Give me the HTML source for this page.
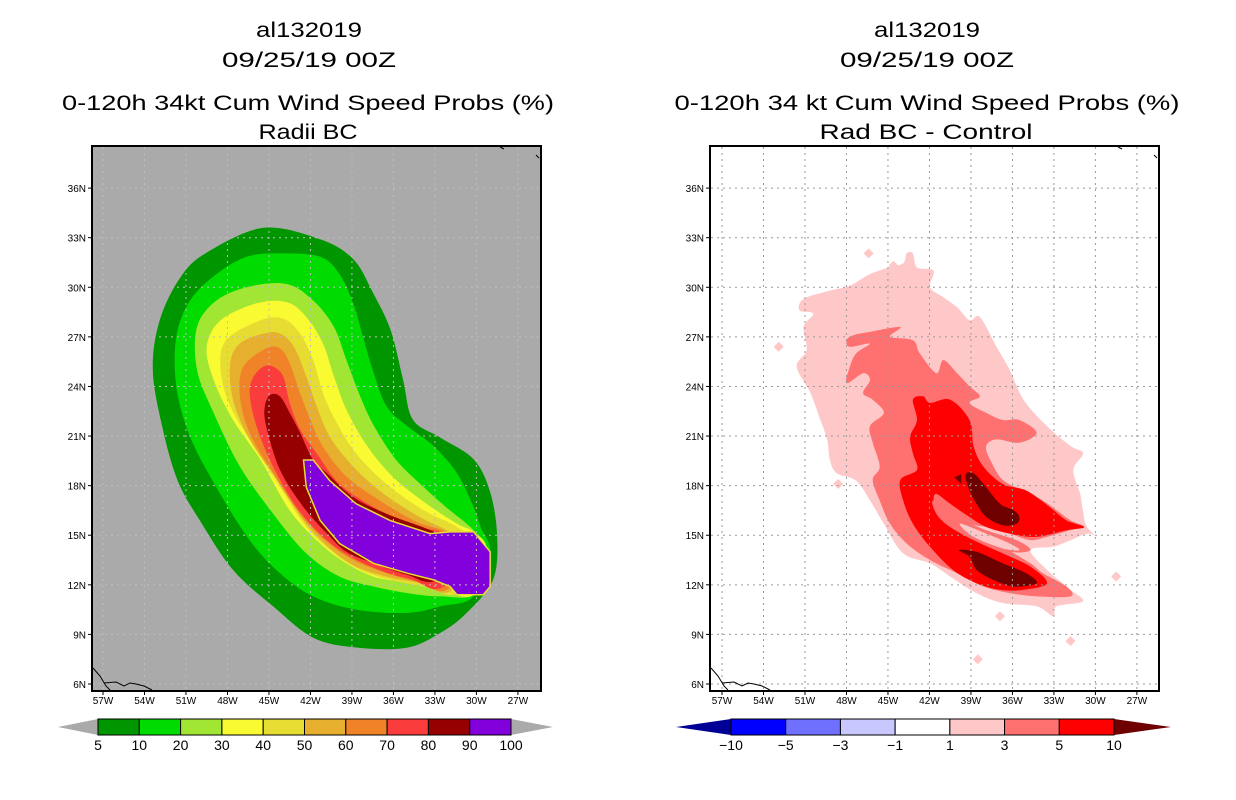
<!DOCTYPE html>
<html><head><meta charset="utf-8"><style>
html,body{margin:0;padding:0;background:#fff;}
svg{display:block;font-family:"Liberation Sans",sans-serif;}
</style></head><body>
<svg id="s" width="1236" height="800" viewBox="0 0 1236 800">
<defs>
<clipPath id="cl"><rect x="92" y="146" width="449" height="545"/></clipPath>
<clipPath id="cr"><rect x="710" y="146" width="448" height="545"/></clipPath>
</defs>
<g font-size="21" text-anchor="middle" fill="#000">
<text x="309" y="37" textLength="106" lengthAdjust="spacingAndGlyphs">al132019</text>
<text x="309" y="67" textLength="174" lengthAdjust="spacingAndGlyphs">09/25/19 00Z</text>
<text x="308" y="110" textLength="492" lengthAdjust="spacingAndGlyphs">0-120h 34kt Cum Wind Speed Probs (%)</text>
<text x="308" y="139" textLength="99" lengthAdjust="spacingAndGlyphs">Radii BC</text>
</g>
<g font-size="21" text-anchor="middle" fill="#000">
<text x="927" y="37" textLength="106" lengthAdjust="spacingAndGlyphs">al132019</text>
<text x="927" y="67" textLength="174" lengthAdjust="spacingAndGlyphs">09/25/19 00Z</text>
<text x="927" y="110" textLength="505" lengthAdjust="spacingAndGlyphs">0-120h 34 kt Cum Wind Speed Probs (%)</text>
<text x="926" y="139" textLength="213" lengthAdjust="spacingAndGlyphs">Rad BC - Control</text>
</g>
<g id="L"></g>
<g id="R"></g>
<g id="CB"></g>
</svg>
<script>
// ---- data ----
var lonTicks=[-57,-54,-51,-48,-45,-42,-39,-36,-33,-30,-27];
var latTicks=[6,9,12,15,18,21,24,27,30,33,36];
var leftLevels=[5,10,20,30,40,50,60,70,80,90,100];
var leftColors=["#009600","#00dc00","#a0e632","#fafa32","#e6dc32","#e6af2d","#f08228","#fa3c3c","#960000","#8200dc"];
var rightLevels=[-10,-5,-3,-1,1,3,5,10];
var rightColors=["#000096","#0000ff","#7070ff","#c8c8ff","#ffffff","#ffc8c8","#ff7070","#ff0000","#6e0000"];
var p5=[[-45.4,33.6],[-41.3,32.9],[-38.9,31.7],[-37.5,29.7],[-36.2,27.4],[-35.3,24.4],[-34.6,22.0],[-32.6,20.9],[-30.2,19.6],[-29.0,17.6],[-28.5,14.9],[-28.8,12.3],[-30.7,10.3],[-32.6,9.1],[-35.0,8.2],[-38.6,8.2],[-41.8,8.8],[-44.7,10.7],[-47.6,12.9],[-50.0,15.9],[-51.6,18.3],[-52.7,21.5],[-53.4,25.0],[-52.9,28.0],[-51.4,30.6],[-49.5,32.1]];
var p10=[[-44.2,32.05],[-41.3,31.85],[-39.9,30.8],[-38.9,29.0],[-38.2,27.0],[-37.5,25.0],[-36.5,22.8],[-35.0,21.6],[-33.1,20.4],[-31.4,18.75],[-30.2,16.7],[-29.7,15.5],[-29.0,13.9],[-30.2,11.3],[-32.6,10.7],[-35.0,10.3],[-38.7,10.5],[-41.8,11.3],[-44.2,12.7],[-46.4,14.7],[-48.8,17.9],[-50.7,20.96],[-51.7,24.0],[-51.7,27.0],[-50.7,29.2],[-48.8,30.8],[-46.6,31.85]];
var p20=[[-46.4,30.05],[-43.7,30.2],[-41.8,29.2],[-40.3,27.6],[-39.4,25.6],[-38.4,23.4],[-37.4,21.6],[-35.8,19.55],[-33.8,17.9],[-32.2,16.7],[-30.7,15.7],[-30.0,15.1],[-29.25,14.1],[-30.0,11.5],[-32.6,11.3],[-35.0,11.5],[-37.45,11.9],[-39.9,12.5],[-42.3,13.9],[-44.7,16.3],[-47.1,19.15],[-49.0,22.4],[-50.2,25.0],[-50.2,27.6],[-48.8,29.2]];
var p30=[[-45.9,29.03],[-43.7,29.1],[-42.3,28.2],[-41.1,26.6],[-40.3,24.6],[-39.4,22.6],[-37.9,20.4],[-36.0,18.5],[-33.6,16.9],[-31.4,15.7],[-30.2,15.2],[-29.25,14.1],[-30.2,11.4],[-32.6,11.7],[-35.0,12.1],[-37.45,12.5],[-39.4,13.3],[-41.3,14.5],[-43.5,16.5],[-45.6,19.55],[-47.6,21.97],[-49.0,24.4],[-49.5,26.4],[-48.5,28.0]];
var p40=[[-45.6,28.0],[-43.96,28.1],[-42.75,27.2],[-41.8,25.6],[-41.1,23.6],[-40.1,21.8],[-38.7,19.95],[-36.5,18.1],[-33.8,16.5],[-31.4,15.5],[-29.6,14.2],[-31.4,11.5],[-33.8,11.9],[-36.25,12.3],[-38.4,12.9],[-40.3,13.9],[-42.3,15.5],[-44.2,17.9],[-46.1,20.4],[-47.8,22.8],[-48.5,25.0],[-48.1,26.8]];
var p50=[[-45.4,27.2],[-44.2,27.2],[-43.2,26.4],[-42.3,24.6],[-41.55,22.8],[-40.6,20.96],[-38.9,19.15],[-36.7,17.5],[-34.1,16.1],[-31.9,15.2],[-29.8,14.1],[-31.9,11.6],[-34.1,12.1],[-36.5,12.5],[-38.7,13.1],[-40.6,14.2],[-42.5,15.9],[-44.4,18.35],[-46.4,20.8],[-47.6,23.2],[-47.8,25.4],[-47.1,26.6]];
var p60=[[-45.2,26.3],[-44.2,26.3],[-43.5,25.4],[-42.75,23.6],[-42.0,21.97],[-41.1,20.36],[-39.4,18.55],[-37.0,17.1],[-34.3,15.8],[-32.15,15.2],[-29.9,14.0],[-32.15,11.7],[-34.3,12.2],[-36.5,12.7],[-38.9,13.5],[-40.8,14.6],[-42.75,16.3],[-44.7,18.75],[-46.4,21.2],[-47.1,23.4],[-46.85,25.2]];
var p70=[[-45.4,25.2],[-44.7,25.2],[-43.96,24.6],[-43.5,23.0],[-42.75,21.4],[-41.55,19.95],[-39.9,18.1],[-37.45,16.7],[-34.6,15.5],[-32.6,15.2],[-30.0,13.8],[-32.6,11.8],[-34.6,12.3],[-36.7,12.8],[-39.1,13.7],[-41.1,14.9],[-43.0,16.7],[-44.7,19.15],[-45.9,21.6],[-46.4,23.6],[-46.1,24.6]];
var p80=[[-44.9,23.5],[-44.2,23.4],[-43.5,22.4],[-42.75,21.2],[-41.8,19.55],[-40.8,18.75],[-38.9,17.3],[-36.5,16.3],[-33.6,15.4],[-32.15,14.8],[-30.5,13.5],[-33.1,12.2],[-35.0,12.6],[-37.45,13.3],[-39.4,14.0],[-40.8,15.1],[-42.5,16.7],[-44.2,18.95],[-45.2,21.6],[-45.3,22.8]];
var p90=[[-42.5,19.55],[-41.8,19.55],[-40.6,18.3],[-38.7,16.9],[-36.25,15.9],[-33.35,15.1],[-31.9,15.2],[-30.2,15.2],[-29.0,14.0],[-29.0,11.9],[-29.5,11.4],[-31.4,11.4],[-31.9,11.9],[-33.1,12.3],[-35.0,12.7],[-37.45,13.3],[-39.9,14.5],[-41.3,15.9],[-42.3,17.9]];
var r1=[[-51.4,28.6],[-51.1,29.3],[-49.2,29.8],[-47.75,30.1],[-46.3,30.8],[-44.9,31.2],[-43.9,31.45],[-43.65,32.05],[-43.2,32.05],[-42.9,31.2],[-41.7,31.0],[-41.96,30.0],[-41.0,29.4],[-40.0,28.8],[-39.1,28.0],[-38.35,28.2],[-37.15,26.4],[-36.2,25.0],[-35.2,23.2],[-33.5,21.6],[-31.8,20.4],[-30.9,19.96],[-31.6,18.95],[-31.1,17.5],[-30.9,16.5],[-30.6,15.5],[-29.4,14.5],[-30.4,15.1],[-31.8,14.7],[-33.05,14.3],[-34.7,14.1],[-33.5,12.9],[-31.8,11.7],[-30.9,11.0],[-32.8,10.7],[-33.05,10.1],[-34.25,10.7],[-36.7,10.9],[-38.6,11.5],[-40.5,12.5],[-41.96,13.3],[-43.9,13.9],[-45.3,15.7],[-46.3,17.1],[-47.3,18.3],[-48.7,18.75],[-49.2,19.55],[-49.4,20.8],[-49.9,22.0],[-50.6,23.6],[-51.6,25.2],[-50.88,26.2],[-51.1,27.6],[-50.4,28.4]];
var r3=[[-47.99,26.8],[-47.5,27.1],[-46.3,27.3],[-44.1,27.6],[-44.85,27.0],[-43.2,26.8],[-42.7,26.0],[-41.5,24.8],[-41.0,25.6],[-40.0,24.8],[-39.1,24.0],[-38.35,23.4],[-39.1,23.0],[-37.9,22.4],[-36.7,21.97],[-35.5,21.97],[-34.25,21.2],[-35.5,20.6],[-37.15,20.8],[-37.9,20.4],[-37.6,19.55],[-36.7,18.35],[-35.2,17.7],[-33.8,17.1],[-32.8,16.5],[-31.8,15.9],[-30.8,15.5],[-31.8,15.3],[-33.5,14.9],[-34.7,14.7],[-36.2,15.1],[-37.9,15.5],[-39.8,15.7],[-39.1,15.5],[-36.7,14.3],[-34.7,13.3],[-33.8,12.7],[-32.1,11.9],[-31.8,11.3],[-34.25,11.3],[-36.2,11.5],[-38.1,11.9],[-40.0,12.7],[-41.96,13.5],[-43.65,14.5],[-44.85,15.7],[-45.6,17.1],[-46.1,18.35],[-45.6,19.15],[-46.1,20.6],[-46.3,21.6],[-45.3,22.4],[-46.1,23.2],[-46.8,23.6],[-46.3,24.4],[-46.8,24.8],[-47.99,24.2],[-47.75,25.2],[-47.3,26.0],[-46.3,26.6],[-47.75,26.4]];
var r5=[[-43.2,23.2],[-42.45,23.4],[-41.96,23.0],[-40.5,23.2],[-39.1,21.97],[-38.8,20.36],[-38.1,19.15],[-36.7,18.1],[-34.98,17.7],[-33.3,16.7],[-32.1,15.9],[-30.8,15.5],[-32.1,15.3],[-34.25,14.9],[-36.2,15.1],[-37.9,15.5],[-39.1,16.1],[-40.5,16.9],[-41.5,17.5],[-41.7,17.1],[-41.5,16.3],[-40.5,15.5],[-38.8,14.7],[-36.7,13.9],[-34.7,13.1],[-33.5,12.1],[-35.2,11.7],[-36.9,11.7],[-38.6,12.1],[-40.3,12.9],[-41.96,14.3],[-43.2,15.7],[-43.9,17.1],[-44.1,18.35],[-42.9,18.95],[-43.2,19.96],[-43.4,20.96],[-42.9,21.97]];
var r3chan=[[-41.7,17.1],[-40.0,16.1],[-37.9,15.3],[-35.7,14.7],[-34.7,14.1],[-36.2,14.0],[-38.6,14.7],[-40.5,15.5],[-41.5,16.3]];
var r1chan=[[-39.8,15.7],[-37.9,15.1],[-36.2,14.5],[-35.5,14.1],[-36.7,14.2],[-38.8,14.9]];
var r10a=[[-39.4,18.65],[-38.8,18.75],[-37.9,17.9],[-36.9,16.9],[-35.9,16.5],[-35.5,16.1],[-35.7,15.7],[-36.7,15.6],[-37.9,16.1],[-38.6,16.9],[-39.1,17.7]];
var r10b=[[-39.9,14.1],[-38.6,14.0],[-36.7,13.3],[-35.0,12.7],[-34.25,12.1],[-35.9,11.9],[-37.4,12.3],[-38.6,12.9],[-39.1,13.7]];
var r10c=[[-40.2,18.5],[-39.7,18.7],[-39.7,18.1]];
var rSpecks=[[-46.4,32.05],[-38.5,7.5],[-31.8,8.6],[-36.9,10.1],[-28.5,12.5],[-44.6,31.3],[-49.9,28.6],[-52.9,26.4],[-48.6,18.1]];

// ---- helpers ----
var NS="http://www.w3.org/2000/svg";
function mk(tag,attrs,parent){var e=document.createElementNS(NS,tag);for(var k in attrs)e.setAttribute(k,attrs[k]);parent.appendChild(e);return e;}
function X(ox,lon){return ox+(lon+57)*13.83;}
function Y(lat){return 684-(lat-6)*16.53;}
function smoothPath(ox,pts){
  var P=pts.map(function(p){return [X(ox,p[0]),Y(p[1])];});var n=P.length;
  var f=function(v){return v.toFixed(1);};
  var d="M"+f(P[0][0])+","+f(P[0][1]);
  for(var i=0;i<n;i++){
    var p0=P[(i-1+n)%n],p1=P[i],p2=P[(i+1)%n],p3=P[(i+2)%n];
    var c1=[p1[0]+(p2[0]-p0[0])/6,p1[1]+(p2[1]-p0[1])/6];
    var c2=[p2[0]-(p3[0]-p1[0])/6,p2[1]-(p3[1]-p1[1])/6];
    d+=" C"+f(c1[0])+","+f(c1[1])+" "+f(c2[0])+","+f(c2[1])+" "+f(p2[0])+","+f(p2[1]);
  }
  return d+"Z";}
function polyPath(ox,pts){return "M"+pts.map(function(p){return X(ox,p[0]).toFixed(1)+","+Y(p[1]).toFixed(1);}).join(" L")+"Z";}

function panel(g,ox,fx,clip,bg){
  var r=mk("rect",{x:fx,y:146,width:449,height:545,fill:bg},g);
  
  
  var body=mk("g",{"clip-path":"url(#"+clip+")"},g);
  
  
  return body;}
function gridAndAxes(g,ox,fx,gridCol){
  var gg=mk("g",{stroke:gridCol,"stroke-width":1,"stroke-dasharray":"2,4",fill:"none"},g);
  
  
  lonTicks.forEach(function(l){var x=X(ox,l);mk("line",{x1:x,y1:147,x2:x,y2:690},gg);});
  latTicks.forEach(function(l){var y=Y(l);mk("line",{x1:fx+1,y1:y,x2:fx+448,y2:y},gg);});
  var c=mk("path",{d:"M"+(fx+1)+",668 L"+(fx+8)+",676 L"+(fx+14)+",686 L"+(fx+18)+",690 M"+(fx+12)+",683 L"+(fx+24)+",682 L"+(fx+32)+",686 L"+(fx+38)+",683 L"+(fx+44)+",684 L"+(fx+52)+",686 L"+(fx+60)+",690 M"+(fx+408)+",147 L"+(fx+412)+",149 M"+(fx+444)+",155 L"+(fx+447)+",158",stroke:"#000","stroke-width":1,fill:"none"},g);
  
  
  var fr=mk("rect",{x:fx,y:146,width:449,height:545,fill:"none",stroke:"#000","stroke-width":2},g);
  
  
  var ax=mk("g",{"font-size":"10",fill:"#000"},g);
  
  
  latTicks.forEach(function(l){var y=Y(l);
    mk("line",{x1:fx-4,y1:y,x2:fx,y2:y,stroke:"#000"},ax);
    var t=mk("text",{x:fx-6,y:y+4,"text-anchor":"end"},ax);t.textContent=l+"N";
    
    });
  lonTicks.forEach(function(l){var x=X(ox,l);
    mk("line",{x1:x,y1:691,x2:x,y2:695,stroke:"#000"},ax);
    var t=mk("text",{x:x,y:704,"text-anchor":"middle"},ax);t.textContent=(-l)+"W";
    
    });
}
function fillShape(body,ox,pts,col,smooth){var p=mk("path",{d:smooth?smoothPath(ox,pts):polyPath(ox,pts),fill:col},body);
  
  return p;}

// left
var L=document.getElementById("L");
var lb=panel(L,103,92,"cl","#aaaaaa");
var lp=[p5,p10,p20,p30,p40,p50,p60,p70,p80];
lp.forEach(function(p,i){fillShape(lb,103,p,leftColors[i],true);});
var pu=fillShape(lb,103,p90,leftColors[9],false);
pu.setAttribute("stroke","#e6dc32");pu.setAttribute("stroke-width","1.5");
gridAndAxes(L,103,92,"#bdbdbd");

// right
var R=document.getElementById("R");
var rb=panel(R,722,710,"cr","#ffffff");
fillShape(rb,722,r1,rightColors[5],true);
rSpecks.forEach(function(s){var x=X(722,s[0]),y=Y(s[1]);
  var d=mk("path",{d:"M"+x+","+(y-5)+" L"+(x+5)+","+y+" L"+x+","+(y+5)+" L"+(x-5)+","+y+"Z",fill:rightColors[5]},rb);
  
  });
fillShape(rb,722,r3,rightColors[6],true);
fillShape(rb,722,r5,rightColors[7],true);
fillShape(rb,722,r3chan,rightColors[6],true);
fillShape(rb,722,r1chan,rightColors[5],true);
fillShape(rb,722,r10a,rightColors[8],true);
fillShape(rb,722,r10b,rightColors[8],true);
fillShape(rb,722,r10c,rightColors[8],false);
gridAndAxes(R,722,710,"#9a9a9a");

// colorbars
var CB=document.getElementById("CB");
function colorbar(x0,x1,tipL,tipR,levels,colors,name){
  var g=mk("g",{},CB);
  
  
  var nb=levels.length-1, w=(x1-x0)/nb, y0=719, y1=735;
  var a=mk("path",{d:"M"+tipL+",727 L"+x0+","+y0+" L"+x0+","+y1+"Z",fill:colors[0]},g);
  
  
  var b=mk("path",{d:"M"+tipR+",727 L"+x1+","+y0+" L"+x1+","+y1+"Z",fill:colors[colors.length-1]},g);
  
  
  for(var i=0;i<nb;i++){
    var r=mk("rect",{x:x0+i*w,y:y0,width:w,height:y1-y0,fill:colors[i+1],stroke:"#000","stroke-width":1},g);
    
    }
  levels.forEach(function(v,i){
    var t=mk("text",{x:x0+i*w,y:750,"text-anchor":"middle","font-size":"14",fill:"#000"},g);
    t.textContent=String(v).replace("-","\u2212");
    
    });
}
colorbar(98,511,58,553,leftLevels,["#aaaaaa"].concat(leftColors,["#aaaaaa"]),"left-colorbar");
colorbar(731,1114,676,1171,rightLevels,rightColors,"right-colorbar");
</script>
</body></html>
